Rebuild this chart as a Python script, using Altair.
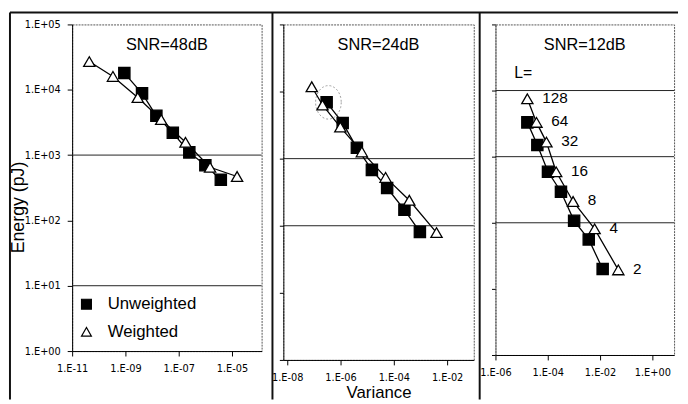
import altair as alt
import pandas as pd
import math

FONT = "Liberation Sans, Arial, sans-serif"
TICKFONT = "Liberation Sans Narrow, Arial Narrow, DejaVu Sans Condensed, Liberation Sans, sans-serif"

series_names = ["Unweighted", "Weighted"]

# SNR = 48 dB
var48_unw = [9.1e-10, 4.2e-9, 1.45e-8, 6.0e-8, 2.5e-7, 1.0e-6, 3.8e-6]
en48_unw = [1.8e4, 8.8e3, 4.0e3, 2.2e3, 1.1e3, 700, 420]
var48_w = [4.4e-11, 3.4e-10, 2.9e-9, 2.2e-8, 1.8e-7, 1.5e-6, 1.55e-5]
en48_w = [2.7e4, 1.6e4, 7.6e3, 3.5e3, 1.57e3, 650, 470]

# SNR = 24 dB
var24_unw = [3.0e-7, 1.2e-6, 4.1e-6, 1.5e-5, 5.6e-5, 2.5e-4, 9.5e-4]
en24_unw = [6.9e3, 3.4e3, 1.45e3, 680, 365, 173, 81]
var24_w = [8.3e-8, 2.1e-7, 9.8e-7, 6.3e-6, 4.9e-5, 3.8e-4, 4.0e-3]
en24_w = [1.18e4, 6.3e3, 2.95e3, 1.26e3, 525, 240, 79]

# SNR = 12 dB
var12_unw = [1.66e-5, 4.0e-5, 1.02e-4, 3.2e-4, 1.02e-3, 3.7e-3, 1.26e-2]
en12_unw = [3.3e3, 1.5e3, 590, 295, 107, 56, 20]
var12_w = [1.66e-5, 3.7e-5, 8.9e-5, 2.1e-4, 9.3e-4, 6.2e-3, 5.0e-2]
en12_w = [7.5e3, 3.3e3, 1.66e3, 590, 210, 81, 19.4]

L_values = ["128", "64", "32", "16", "8", "4", "2"]

# highlighted point (dotted ellipse) in SNR=24dB panel
circle_var = [3.5e-7]
circle_en = [6.9e3]

# "L=" annotation
Llabel_var = [5.2e-6]
Llabel_en = [1.86e4]

grid48 = [1e3, 1e1]
grid24 = [1e3, 1e2]
grid12 = [1e4, 1e3, 1e2]

y_ticks = [1, 10, 100, 1e3, 1e4, 1e5]
x_ticks48 = [1e-11, 1e-9, 1e-7, 1e-5]
x_ticks24 = [1e-8, 1e-6, 1e-4, 1e-2]
x_ticks12 = [1e-6, 1e-4, 1e-2, 1]

x_dom48 = [1e-11, 1.29e-4]
x_dom24 = [7.1e-9, 1e-1]
x_dom12 = [1e-6, 6.8]


def make_df(vu, eu, vw, ew):
    rows = []
    for i, (v, e) in enumerate(zip(vu, eu)):
        rows.append({"series": "Unweighted", "variance": v, "energy": e, "idx": i, "L": L_values[i]})
    for i, (v, e) in enumerate(zip(vw, ew)):
        rows.append({"series": "Weighted", "variance": v, "energy": e, "idx": i, "L": L_values[i]})
    return pd.DataFrame(rows)


label_expr = ("'1.E' + (datum.value >= 1 ? '+' : '-') + "
              "pad(toString(abs(round(log(datum.value)/LN10))), 2, '0', 'left')")

one = pd.DataFrame({"k": [0]})


def panel(df, xdom, xticks, w, h, grid_vals, snr, first=False, xtitle=False,
          legend=False, extra=None, ydash=False):
    xscale = alt.Scale(type="log", domain=xdom, nice=False)
    yscale = alt.Scale(type="log", domain=[1, 1e5], nice=False)
    x_axis = alt.Axis(values=xticks, labelExpr=label_expr, grid=False,
                      labelFont=TICKFONT, labelFontSize=11, labelColor="black",
                      tickSize=5, labelPadding=7, tickColor="black",
                      domainColor="black", labelFlush=False, labelOverlap=False,
                      titleFont=FONT, titleFontSize=17, titleFontWeight="normal",
                      titleColor="black", titlePadding=2)
    if first:
        y_axis = alt.Axis(values=y_ticks, labelExpr=label_expr, grid=False,
                          labelFont=TICKFONT, labelFontSize=11, labelColor="black",
                          tickSize=5, labelPadding=7, tickColor="black",
                          domainColor="black", labelFlush=False, labelOverlap=False,
                          titleFont=FONT, titleFontSize=18, titleFontWeight="normal",
                          titleColor="black", titleAngle=-90, titleBaseline="middle",
                          titleAlign="center", titleX=-54, titleY=185)
    else:
        y_axis = alt.Axis(values=y_ticks, labels=False, grid=False, tickSize=4,
                          tickColor="black",
                          domainColor="#444" if ydash else "black",
                          domainDash=[2, 1] if ydash else [1, 0])
    xt = "Variance" if xtitle else None
    X = alt.X("variance:Q", scale=xscale, axis=x_axis, title=xt)
    title_y = "Energy (pJ)" if first else None
    Y = alt.Y("energy:Q", scale=yscale, axis=y_axis, title=title_y)

    gdf = pd.DataFrame({"g": grid_vals})
    grid = alt.Chart(gdf).mark_rule(color="#222", strokeWidth=1).encode(
        y=alt.Y("g:Q", scale=yscale, axis=y_axis, title=title_y))

    line = alt.Chart(df).mark_line(color="black", strokeWidth=1.3).encode(
        x=X, y=Y, detail="series:N", order="idx:Q")

    if legend:
        leg = alt.Legend(title=None, orient="none", legendX=6, legendY=275,
                         labelFont=FONT, labelFontSize=17, labelColor="black",
                         symbolSize=100, symbolStrokeWidth=1.2, rowPadding=10,
                         labelOffset=13, padding=0)
    else:
        leg = None
    shape = alt.Shape("series:N", scale=alt.Scale(domain=series_names,
                      range=["square", "triangle-up"]), legend=leg)
    fill = alt.Fill("series:N", scale=alt.Scale(domain=series_names,
                    range=["black", "white"]), legend=leg)
    stroke = alt.Stroke("series:N", scale=alt.Scale(domain=series_names,
                        range=["black", "black"]), legend=leg)

    pts = alt.Chart(df).mark_point(size=130, strokeWidth=1.3,
                                   opacity=1, fillOpacity=1).encode(
        x=X, y=Y, shape=shape, fill=fill, stroke=stroke)

    title = alt.Chart(pd.DataFrame({"t": [snr]})).mark_text(
        font=FONT, fontSize=16.5, color="black", baseline="middle", align="center"
    ).encode(x=alt.value(w / 2), y=alt.value(21), text="t:N")

    layers = [grid, line, pts, title]
    if extra is not None:
        layers += extra(X, Y)
    return alt.layer(*layers).properties(width=w, height=h)


def frame_left(X, Y):
    return [
        alt.Chart(one).mark_rule(color="#111", strokeWidth=2).encode(
            x=alt.value(-63), y=alt.value(-12), y2=alt.value(380)),
        alt.Chart(one).mark_rule(color="#111", strokeWidth=2).encode(
            x=alt.value(-63), x2=alt.value(614), y=alt.value(-12)),
        alt.Chart(one).mark_rule(color="#111", strokeWidth=2).encode(
            x=alt.value(203), y=alt.value(-12), y2=alt.value(380)),
    ]


def extra_mid(X, Y):
    pts = []
    for k in range(41):
        a = 2 * math.pi * k / 40
        pts.append(f"{0.765 * math.cos(a):.3f},{math.sin(a):.3f}")
    path = "M" + " L".join(pts) + " Z"
    cdf = pd.DataFrame({"variance": circle_var, "energy": circle_en})
    return [alt.Chart(cdf).mark_point(shape=path, size=1156, stroke="#777",
                                      strokeWidth=1, strokeDash=[2, 2],
                                      filled=False).encode(x=X, y=Y)]


def extra_right(X, Y):
    wdf = df12[df12["series"] == "Weighted"]
    labels = alt.Chart(wdf).mark_text(font=FONT, fontSize=15.5, align="left",
                                      baseline="middle", dx=15, dy=-1,
                                      color="black").encode(x=X, y=Y, text="L:N")
    ldf = pd.DataFrame({"variance": Llabel_var, "energy": Llabel_en, "t": ["L="]})
    lt = alt.Chart(ldf).mark_text(font=FONT, fontSize=16, align="left",
                                  baseline="middle", color="black").encode(
        x=X, y=Y, text="t:N")
    div = alt.Chart(one).mark_rule(color="#111", strokeWidth=2).encode(
        x=alt.value(-16), y=alt.value(-12), y2=alt.value(380))
    return [labels, lt, div]


df48 = make_df(var48_unw, en48_unw, var48_w, en48_w)
df24 = make_df(var24_unw, en24_unw, var24_w, en24_w)
df12 = make_df(var12_unw, en12_unw, var12_w, en12_w)

p1 = panel(df48, x_dom48, x_ticks48, 192, 331, grid48, "SNR=48dB",
           first=True, legend=True, extra=frame_left)
p2 = panel(df24, x_dom24, x_ticks24, 193, 340, grid24, "SNR=24dB",
           xtitle=True, extra=extra_mid)
p3 = panel(df12, x_dom12, x_ticks12, 181, 335, grid12, "SNR=12dB",
           extra=extra_right, ydash=True)

chart = alt.hconcat(p1, p2, p3, spacing=22, bounds="flush").resolve_scale(
    shape="independent", fill="independent", stroke="independent").resolve_legend(
    shape="independent", fill="independent", stroke="independent").properties(
    padding=0, background="white").configure_view(
    stroke="#555", strokeDash=[2, 1], strokeWidth=1)

chart.save("out.html", embed_options={"renderer": "svg", "actions": False})
